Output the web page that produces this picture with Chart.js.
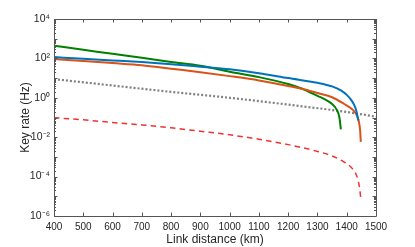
<!DOCTYPE html>
<html>
<head>
<meta charset="utf-8">
<script src="https://cdn.jsdelivr.net/npm/chart.js@4"></script>
<style>
  html, body { margin: 0; padding: 0; background: #fff; }
  #wrap { width: 415px; height: 247px; }
</style>
</head>
<body>
<div id="wrap"><canvas id="chart"></canvas></div>
<script>
// x ticks and y ticks
const xTicks = [400, 500, 600, 700, 800, 900, 1000, 1100, 1200, 1300, 1400, 1500];
const yTickValues = [1e-6, 1e-4, 1e-2, 1, 1e2, 1e4];
const yTickLabels = ['10⁻⁶', '10⁻⁴', '10⁻²', '10⁰', '10²', '10⁴'];

// blue curve
const blueDist = [400, 500, 600, 700, 800, 900, 1000, 1100, 1200, 1300, 1350, 1380, 1400, 1415, 1425, 1432, 1437, 1440];
const blueRate = [117, 95, 79, 65, 51, 38, 28, 17.8, 10, 5.75, 3.8, 2.4, 1.41, 0.79, 0.45, 0.24, 0.11, 0.07];

// orange curve
const orangeDist = [400, 500, 600, 700, 800, 900, 1000, 1100, 1200, 1250, 1300, 1350, 1390, 1420, 1435, 1442, 1446, 1448];
const orangeRate = [93, 74, 58, 45, 30, 20, 12.6, 7.6, 4.0, 2.8, 1.74, 1.07, 0.5, 0.25, 0.126, 0.056, 0.02, 0.0058];

// green curve
const greenDist = [400, 500, 600, 700, 800, 900, 1000, 1100, 1200, 1250, 1300, 1330, 1350, 1365, 1375, 1380];
const greenRate = [440, 275, 170, 107, 66, 42, 21, 11.2, 5.0, 2.8, 1.26, 0.76, 0.48, 0.26, 0.1, 0.025];

// gray dotted line
const grayDist = [400, 600, 800, 1000, 1200, 1400, 1500];
const grayRate = [8.9, 4.2, 2.0, 1.0, 0.45, 0.19, 0.11];

// red dashed curve
const redDist = [400, 500, 600, 700, 800, 900, 1000, 1100, 1200, 1300, 1350, 1390, 1415, 1430, 1440, 1445, 1448];
const redRate = [0.098, 0.076, 0.056, 0.042, 0.03, 0.02, 0.0132, 0.0079, 0.0042, 0.0019, 0.00112, 0.00056, 0.0003, 0.00015, 0.000056, 0.00002, 0.0000079];

function pts(xs, ys) {
    return xs.map(function (x, i) { return { x: x, y: ys[i] }; });
}

const axisColor = '#555555';
const textColor = '#262626';

// inward tick marks and box, MATLAB style
const boxTicks = {
    id: 'boxTicks',
    afterDraw(chart) {
        const ctx = chart.ctx;
        const a = chart.chartArea;
        const xs = chart.scales.x;
        const ys = chart.scales.y;
        ctx.save();
        ctx.strokeStyle = axisColor;
        ctx.lineWidth = 1;
        ctx.beginPath();
        ctx.rect(Math.round(a.left) + 0.5, Math.round(a.top) + 0.5, Math.round(a.right - a.left), Math.round(a.bottom - a.top));
        ctx.stroke();

        ctx.beginPath();
        xTicks.forEach(function (v) {
            const px = Math.round(xs.getPixelForValue(v)) + 0.5;
            ctx.moveTo(px, a.bottom);
            ctx.lineTo(px, a.bottom - 3.5);
            ctx.moveTo(px, a.top);
            ctx.lineTo(px, a.top + 3.5);
        });
        for (let e = -6; e < 4; e++) {
            for (let k = 1; k < 10; k++) {
                const v = k * Math.pow(10, e);
                const py = Math.round(ys.getPixelForValue(v)) + 0.5;
                const len = (k === 1) ? 3.5 : 2;
                ctx.moveTo(a.left, py);
                ctx.lineTo(a.left + len, py);
                ctx.moveTo(a.right, py);
                ctx.lineTo(a.right - len, py);
            }
        }
        ctx.stroke();
        ctx.restore();
    }
};

new Chart(document.getElementById('chart'), {
    type: 'line',
    data: {
        datasets: [
            {
                data: pts(blueDist, blueRate),
                borderColor: '#0072BD',
                borderWidth: 2,
                cubicInterpolationMode: 'monotone',
            },
            {
                data: pts(orangeDist, orangeRate),
                borderColor: '#D95319',
                borderWidth: 2,
                cubicInterpolationMode: 'monotone',
            },
            {
                data: pts(greenDist, greenRate),
                borderColor: '#008000',
                borderWidth: 2,
                cubicInterpolationMode: 'monotone',
            },
            {
                data: pts(grayDist, grayRate),
                borderColor: '#808080',
                borderWidth: 2.2,
                borderDash: [2, 2],
                cubicInterpolationMode: 'monotone',
            },
            {
                data: pts(redDist, redRate),
                borderColor: '#ee3333',
                borderWidth: 1.5,
                borderDash: [5.5, 4.2],
                cubicInterpolationMode: 'monotone',
            },
        ],
    },
    options: {
        responsive: true,
        maintainAspectRatio: false,
        animation: false,
        layout: { padding: { top: 19, right: 39, left: 0, bottom: 0 } },
        elements: { point: { radius: 0 } },
        plugins: {
            legend: { display: false },
            tooltip: { enabled: false },
        },
        scales: {
            x: {
                type: 'linear',
                min: 400,
                max: 1500,
                afterBuildTicks(scale) {
                    scale.ticks = xTicks.map(function (v) { return { value: v }; });
                },
                afterFit(scale) { scale.height = 31; },
                grid: { display: false, drawTicks: false },
                border: { display: false },
                ticks: {
                    color: textColor,
                    font: { family: 'Liberation Sans', size: 10 },
                    padding: 5,
                    maxRotation: 0,
                    autoSkip: false,
                    callback: function (value) { return String(value); },
                },
                title: {
                    display: true,
                    text: 'Link distance (km)',
                    color: textColor,
                    font: { family: 'Liberation Sans', size: 12 },
                    padding: { top: 0, bottom: 0 },
                },
            },
            y: {
                type: 'logarithmic',
                min: 1e-6,
                max: 1e4,
                afterBuildTicks(scale) {
                    scale.ticks = yTickValues.map(function (v) { return { value: v }; });
                },
                afterFit(scale) { scale.width = 54; },
                grid: { display: false, drawTicks: false },
                border: { display: false },
                ticks: {
                    color: textColor,
                    font: { family: 'Liberation Sans', size: 10.5 },
                    padding: 4,
                    autoSkip: false,
                    callback: function (value, index) { return yTickLabels[index]; },
                },
                title: {
                    display: true,
                    text: 'Key rate (Hz)',
                    color: textColor,
                    font: { family: 'Liberation Sans', size: 12 },
                    padding: { top: 18, bottom: 0 },
                },
            },
        },
    },
    plugins: [boxTicks],
});
</script>
</body>
</html>
